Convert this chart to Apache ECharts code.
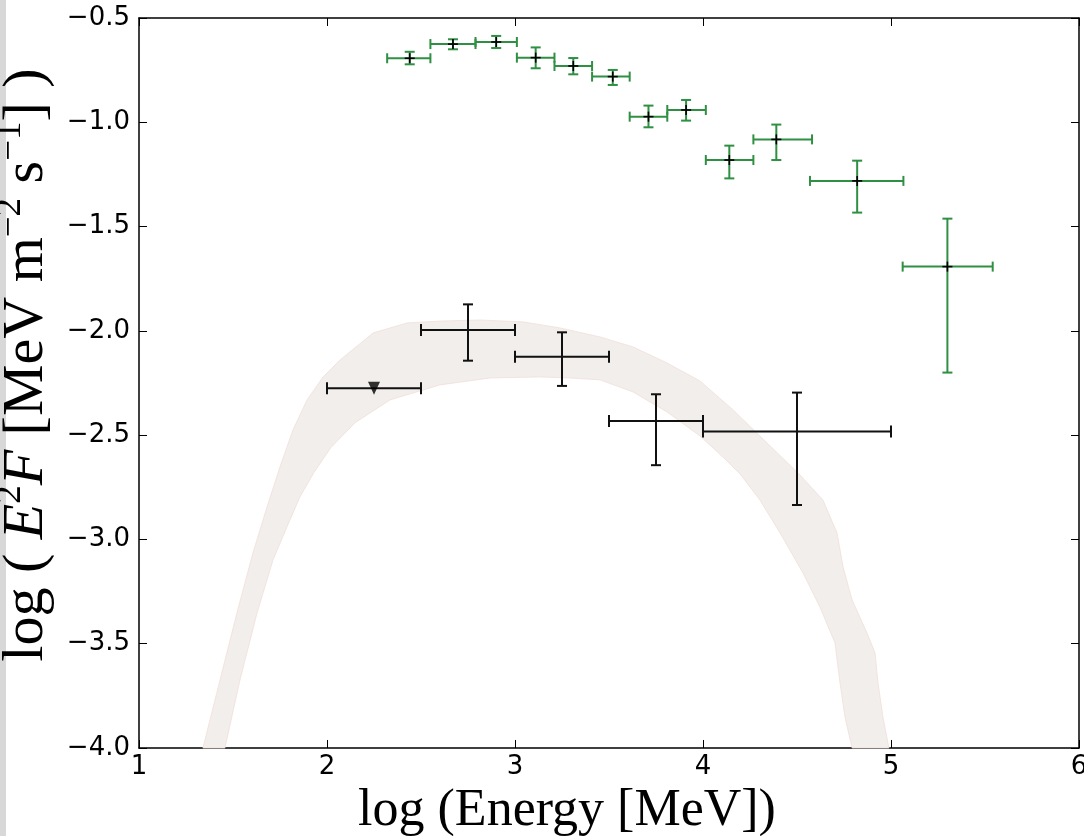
<!DOCTYPE html>
<html><head><meta charset="utf-8">
<script src="https://cdn.jsdelivr.net/npm/echarts@6/dist/echarts.min.js"></script>
<style>html,body{margin:0;padding:0;background:#fff}#c{width:1084px;height:836px}</style>
</head><body><div id="c"></div><script>
// ---- data (log10 energy [MeV], log10 E^2F) ----
const xTicks = [1, 2, 3, 4, 5, 6];
const yTicks = [-4.0, -3.5, -3.0, -2.5, -2.0, -1.5, -1.0, -0.5];

// green points (higher-energy measurements)
const greenX   = [2.44, 2.67, 2.90, 3.11, 3.31, 3.52, 3.71, 3.91, 4.14, 4.39, 4.82, 5.30];
const greenY   = [-0.693, -0.625, -0.615, -0.690, -0.730, -0.781, -0.973, -0.941, -1.181, -1.082, -1.281, -1.692];
const greenXLo = [2.32, 2.55, 2.79, 3.01, 3.21, 3.41, 3.61, 3.81, 4.015, 4.268, 4.569, 5.062];
const greenXHi = [2.55, 2.79, 3.01, 3.21, 3.41, 3.61, 3.81, 4.015, 4.268, 4.58, 5.066, 5.541];
const greenYLo = [-0.722, -0.650, -0.644, -0.741, -0.770, -0.821, -1.024, -0.992, -1.269, -1.181, -1.433, -2.200];
const greenYHi = [-0.662, -0.602, -0.586, -0.641, -0.692, -0.749, -0.920, -0.893, -1.112, -1.011, -1.184, -1.462];

// black points
const blackX   = [2.75, 3.25, 3.75, 4.50];
const blackY   = [-1.996, -2.124, -2.432, -2.483];
const blackXLo = [2.5, 3.0, 3.5, 4.0];
const blackXHi = [3.0, 3.5, 4.0, 5.0];
const blackYLo = [-2.143, -2.264, -2.644, -2.835];
const blackYHi = [-1.873, -2.007, -2.304, -2.296];

// upper limit
const ulX = [2.25], ulY = [-2.275], ulXLo = [2.0], ulXHi = [2.5];

// model band: upper edge (left to right) and lower edge (right to left)
const bandUpperX = [1.340, 1.431, 1.521, 1.606, 1.681, 1.750, 1.819, 1.894, 1.979, 2.069, 2.245, 2.426, 2.601, 2.814, 3.043, 3.239, 3.452, 3.628, 3.809, 3.984, 4.160, 4.340, 4.516, 4.638, 4.713, 4.745, 4.793, 4.872, 4.915, 4.931, 4.957, 4.989];
const bandUpperY = [-4.000, -3.674, -3.352, -3.065, -2.844, -2.652, -2.475, -2.331, -2.221, -2.140, -2.010, -1.962, -1.953, -1.948, -1.957, -1.986, -2.029, -2.077, -2.154, -2.240, -2.379, -2.537, -2.691, -2.811, -2.969, -3.132, -3.290, -3.448, -3.544, -3.688, -3.851, -4.000];
const bandLowerX = [4.793, 4.755, 4.729, 4.702, 4.622, 4.532, 4.410, 4.303, 4.197, 4.106, 3.984, 3.809, 3.628, 3.452, 3.293, 3.133, 2.867, 2.601, 2.335, 2.150, 2.020, 1.930, 1.856, 1.787, 1.713, 1.628, 1.537, 1.457];
const bandLowerY = [-4.000, -3.851, -3.688, -3.496, -3.324, -3.161, -2.969, -2.811, -2.686, -2.605, -2.504, -2.389, -2.293, -2.235, -2.226, -2.221, -2.226, -2.259, -2.331, -2.440, -2.560, -2.680, -2.796, -2.940, -3.098, -3.352, -3.674, -4.000];

// ---- chart ----
const chart = echarts.init(document.getElementById('c'));
const fmtY = v => (v < 0 ? '\u2212' : '') + Math.abs(v).toFixed(1);

function errRender(color, capH, capV, marker) {
  return function (params, api) {
    const x = api.value(0), y = api.value(1);
    const c = api.coord([x, y]);
    const l = api.coord([api.value(2), y]), r = api.coord([api.value(3), y]);
    const lo = api.coord([x, api.value(4)]), hi = api.coord([x, api.value(5)]);
    const st = { stroke: color, lineWidth: 2 };
    const ch = [
      { type: 'line', shape: { x1: l[0], y1: c[1], x2: r[0], y2: c[1] }, style: st },
      { type: 'line', shape: { x1: l[0], y1: c[1] - capH, x2: l[0], y2: c[1] + capH }, style: st },
      { type: 'line', shape: { x1: r[0], y1: c[1] - capH, x2: r[0], y2: c[1] + capH }, style: st }
    ];
    if (Math.abs(lo[1] - hi[1]) > 0.5) {
      ch.push({ type: 'line', shape: { x1: c[0], y1: lo[1], x2: c[0], y2: hi[1] }, style: st });
      ch.push({ type: 'line', shape: { x1: c[0] - capV, y1: lo[1], x2: c[0] + capV, y2: lo[1] }, style: st });
      ch.push({ type: 'line', shape: { x1: c[0] - capV, y1: hi[1], x2: c[0] + capV, y2: hi[1] }, style: st });
    }
    if (marker) {
      const ms = { stroke: '#000', lineWidth: 1.6 };
      ch.push({ type: 'line', shape: { x1: c[0] - 5, y1: c[1], x2: c[0] + 5, y2: c[1] }, style: ms });
      ch.push({ type: 'line', shape: { x1: c[0], y1: c[1] - 5, x2: c[0], y2: c[1] + 5 }, style: ms });
    }
    return { type: 'group', children: ch };
  };
}

const greenData = greenX.map((x, i) => [x, greenY[i], greenXLo[i], greenXHi[i], greenYLo[i], greenYHi[i]]);
const blackData = blackX.map((x, i) => [x, blackY[i], blackXLo[i], blackXHi[i], blackYLo[i], blackYHi[i]]);
const ulData = ulX.map((x, i) => [x, ulY[i], ulXLo[i], ulXHi[i], ulY[i], ulY[i]]);
const bandPts = bandUpperX.map((x, i) => [x, bandUpperY[i]]).concat(bandLowerX.map((x, i) => [x, bandLowerY[i]]));

const axisLineStyle = { color: '#000', width: 1.5 };
const tickCfg = { inside: true, length: 8, lineStyle: { color: '#000', width: 1 } };

chart.setOption({
  animation: false,
  backgroundColor: '#fff',
  graphic: [{ type: 'rect', left: 0, top: 0, shape: { width: 6, height: 836 }, style: { fill: '#d8d8d8' }, silent: true }],
  grid: { left: 139, right: 5, top: 18, bottom: 88, containLabel: false, outerBoundsMode: 'none' },
  xAxis: [{
    type: 'value', min: xTicks[0], max: xTicks[xTicks.length - 1], interval: 1, position: 'bottom',
    axisLine: { onZero: false, lineStyle: axisLineStyle }, axisTick: tickCfg, splitLine: { show: false },
    axisLabel: { fontFamily: 'DejaVu Sans', fontSize: 26, color: '#000', margin: 6, showMinLabel: true, showMaxLabel: true },
    name: 'log (Energy [MeV])', nameLocation: 'middle', nameGap: 30,
    nameTextStyle: { fontFamily: 'Liberation Serif', fontSize: 52, color: '#000', padding: [0, 84, 0, 0] }
  }, {
    type: 'value', min: xTicks[0], max: xTicks[xTicks.length - 1], interval: 1, position: 'top',
    axisLine: { onZero: false, lineStyle: axisLineStyle }, axisTick: tickCfg, splitLine: { show: false },
    axisLabel: { show: false }
  }],
  yAxis: [{
    type: 'value', min: yTicks[0], max: yTicks[yTicks.length - 1], interval: 0.5, position: 'left',
    axisLine: { onZero: false, show: true, lineStyle: axisLineStyle }, axisTick: { show: true, ...tickCfg }, splitLine: { show: false },
    axisLabel: { fontFamily: 'DejaVu Sans', fontSize: 26, color: '#000', margin: 9, formatter: fmtY, showMinLabel: true, showMaxLabel: true },
    name: '{n|log ( }{i|E}{s|2}{i|F}{n| [MeV m}{s|\u22122}{n| s}{s|\u22121}{n|] )}',
    nameLocation: 'middle', nameGap: 59,
    nameTextStyle: {
      fontFamily: 'Liberation Serif', fontSize: 58, color: '#000', padding: [0, 0, 0, 36],
      rich: {
        n: { fontFamily: 'Liberation Serif', fontSize: 58, color: '#000', verticalAlign: 'bottom' },
        i: { fontFamily: 'Liberation Serif', fontSize: 58, fontStyle: 'italic', color: '#000', verticalAlign: 'bottom' },
        s: { fontFamily: 'Liberation Serif', fontSize: 37, color: '#000', verticalAlign: 'bottom', padding: [0, 0, 27, 0] }
      }
    }
  }, {
    type: 'value', min: yTicks[0], max: yTicks[yTicks.length - 1], interval: 0.5, position: 'right',
    axisLine: { onZero: false, show: true, lineStyle: axisLineStyle }, axisTick: { show: true, ...tickCfg }, splitLine: { show: false },
    axisLabel: { show: false }
  }],
  series: [{
    type: 'custom', name: 'model band', xAxisIndex: 0, yAxisIndex: 0, z: 1,
    data: bandPts, encode: { x: 0, y: 1 },
    renderItem: function (params, api) {
      if (params.dataIndex !== 0) return null;
      const pts = bandPts.map(p => api.coord(p));
      return { type: 'polygon', shape: { points: pts }, style: { fill: '#f1eeeb', stroke: 'rgba(242,222,218,0.8)', lineWidth: 1 } };
    }
  }, {
    type: 'custom', name: 'green', z: 3, data: greenData, encode: { x: 0, y: 1 },
    renderItem: errRender('#2f8f42', 5, 5, true)
  }, {
    type: 'custom', name: 'black', z: 4, data: blackData, encode: { x: 0, y: 1 },
    renderItem: errRender('#111', 6, 5, false)
  }, {
    type: 'custom', name: 'upper limit bar', z: 4, data: ulData, encode: { x: 0, y: 1 },
    renderItem: errRender('#111', 6, 5, false)
  }, {
    type: 'scatter', name: 'upper limit', z: 5, data: ulX.map((x, i) => [x, ulY[i]]),
    symbol: 'triangle', symbolRotate: 180, symbolSize: [12, 13], itemStyle: { color: '#000' }
  }]
});
</script></body></html>
